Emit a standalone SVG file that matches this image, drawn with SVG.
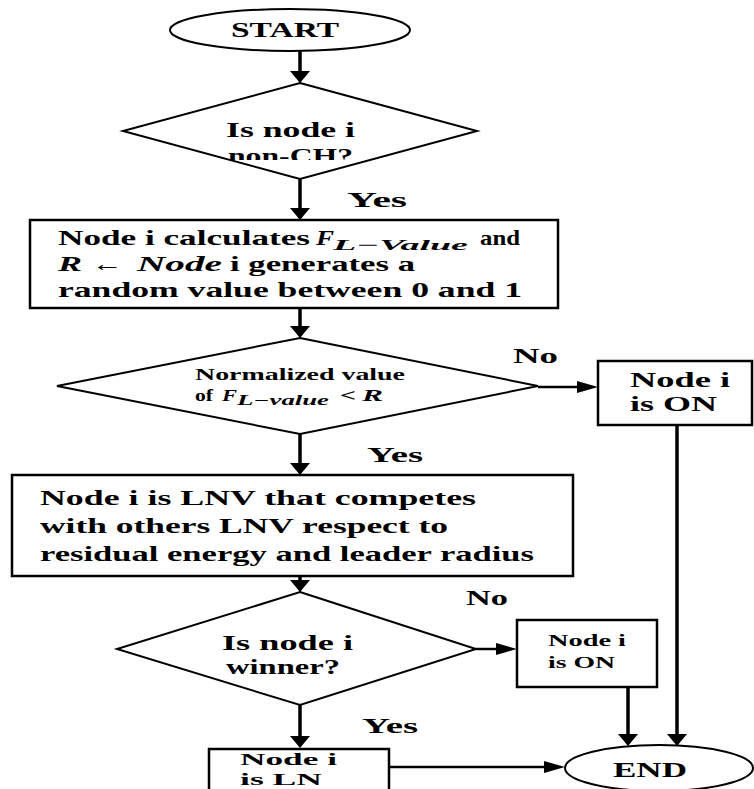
<svg xmlns="http://www.w3.org/2000/svg" width="754" height="789" viewBox="0 0 754 789">
<style>
.t{font-family:"Liberation Serif","Times New Roman",serif;font-weight:bold;font-size:21px;fill:#000}
.it{font-style:italic}
.s16{font-size:17px}
.sub{font-size:15px}
.sub2{font-size:14px}
.ln{font-size:16px}
.shape{fill:#fff;stroke:#000;stroke-width:2}
.box{fill:#fff;stroke:#000;stroke-width:2.5}
.v{fill:none;stroke:#000;stroke-width:3.5}
.h{fill:none;stroke:#000;stroke-width:2.5}
</style>
<defs>
<marker id="av" markerUnits="userSpaceOnUse" markerWidth="12" markerHeight="20" viewBox="0 0 12 20" refX="0" refY="10" orient="auto"><path d="M0,0 L12,10 L0,20 z" fill="#000"/></marker>
<marker id="ah" markerUnits="userSpaceOnUse" markerWidth="21" markerHeight="12" viewBox="0 0 21 12" refX="0" refY="6" orient="auto"><path d="M0,0 L21,6 L0,12 z" fill="#000"/></marker>
<clipPath id="clipD1"><rect x="120" y="80" width="360" height="80"/></clipPath>
</defs>
<rect width="754" height="789" fill="#fff"/>

<g id="connectors">
<path class="v" d="M300,51 V71" marker-end="url(#av)"/>
<path class="v" d="M300,179 V208" marker-end="url(#av)"/>
<path class="v" d="M300,308 V326" marker-end="url(#av)"/>
<path class="h" d="M538,387 H577" marker-end="url(#ah)"/>
<path class="v" d="M300,434 V463" marker-end="url(#av)"/>
<path class="v" d="M300,576 V580" marker-end="url(#av)"/>
<path class="h" d="M476,649 H496" marker-end="url(#ah)"/>
<path class="v" d="M300,705 V736" marker-end="url(#av)"/>
<path class="h" d="M389,767 H544" marker-end="url(#ah)"/>
<path class="v" d="M628,687 V734" marker-end="url(#av)"/>
<path class="v" d="M677,425 V734" marker-end="url(#av)"/>
<text class="t" x="347" y="207" textLength="60" lengthAdjust="spacingAndGlyphs">Yes</text>
<text class="t" x="513" y="363" textLength="45" lengthAdjust="spacingAndGlyphs">No</text>
<text class="t" x="367" y="462" textLength="56" lengthAdjust="spacingAndGlyphs">Yes</text>
<text class="t" x="466" y="605" textLength="42" lengthAdjust="spacingAndGlyphs">No</text>
<text class="t" x="362" y="733" textLength="56" lengthAdjust="spacingAndGlyphs">Yes</text>
</g>

<g id="start">
<ellipse class="shape" cx="290" cy="30" rx="120" ry="21"/>
<text class="t" x="231" y="37" textLength="108" lengthAdjust="spacingAndGlyphs">START</text>
</g>

<g id="d1">
<polygon class="shape" points="300,83 477,131 300,179 123,131"/>
<text class="t" x="226" y="137" textLength="129" lengthAdjust="spacingAndGlyphs">Is node i</text>
<text class="t" x="228" y="163" textLength="125" lengthAdjust="spacingAndGlyphs" clip-path="url(#clipD1)">non-CH?</text>
</g>

<g id="b1">
<rect class="box" x="30" y="220" width="528" height="88"/>
<text class="t" x="58" y="245" textLength="252" lengthAdjust="spacingAndGlyphs">Node i calculates</text>
<text class="t it" x="316" y="245" textLength="18" lengthAdjust="spacingAndGlyphs">F</text>
<text class="t it sub" x="333" y="250" textLength="135" lengthAdjust="spacingAndGlyphs">L−Value</text>
<text class="t" x="480" y="245" textLength="40" lengthAdjust="spacingAndGlyphs">and</text>
<text class="t it" x="58" y="271" textLength="24" lengthAdjust="spacingAndGlyphs">R</text>
<text class="t" x="92" y="271" textLength="31" lengthAdjust="spacingAndGlyphs">←</text>
<text class="t it" x="137" y="271" textLength="85" lengthAdjust="spacingAndGlyphs">Node</text>
<text class="t" x="230" y="271" textLength="185" lengthAdjust="spacingAndGlyphs">i generates a</text>
<text class="t" x="58" y="297" textLength="464" lengthAdjust="spacingAndGlyphs">random value between 0 and 1</text>
</g>

<g id="d2">
<polygon class="shape" points="300,338 538,386 300,434 57,386"/>
<text class="t s16" x="195" y="380" textLength="210" lengthAdjust="spacingAndGlyphs">Normalized value</text>
<text class="t s16" x="195" y="401" textLength="18" lengthAdjust="spacingAndGlyphs">of</text>
<text class="t s16 it" x="222" y="401" textLength="15" lengthAdjust="spacingAndGlyphs">F</text>
<text class="t it sub2" x="237" y="405" textLength="92" lengthAdjust="spacingAndGlyphs">L−value</text>
<text class="t s16" x="340" y="401" textLength="16" lengthAdjust="spacingAndGlyphs">&lt;</text>
<text class="t s16 it" x="362" y="401" textLength="21" lengthAdjust="spacingAndGlyphs">R</text>
</g>

<g id="on1">
<rect class="box" x="598" y="361" width="154" height="64"/>
<text class="t" x="630" y="387" textLength="100" lengthAdjust="spacingAndGlyphs">Node i</text>
<text class="t" x="630" y="411" textLength="87" lengthAdjust="spacingAndGlyphs">is ON</text>
</g>

<g id="b2">
<rect class="box" x="12" y="475" width="561" height="101"/>
<text class="t" x="40" y="505" textLength="436" lengthAdjust="spacingAndGlyphs">Node i is LNV that competes</text>
<text class="t" x="40" y="533" textLength="408" lengthAdjust="spacingAndGlyphs">with others LNV respect to</text>
<text class="t" x="40" y="561" textLength="494" lengthAdjust="spacingAndGlyphs">residual energy and leader radius</text>
</g>

<g id="d3">
<polygon class="shape" points="300,592 476,649 300,705 117,649"/>
<text class="t" x="222" y="650" textLength="131" lengthAdjust="spacingAndGlyphs">Is node i</text>
<text class="t" x="226" y="674" textLength="114" lengthAdjust="spacingAndGlyphs">winner?</text>
</g>

<g id="on2">
<rect class="box" x="517" y="620" width="140" height="67"/>
<text class="t s16" x="548" y="646" textLength="78" lengthAdjust="spacingAndGlyphs">Node i</text>
<text class="t s16" x="548" y="668" textLength="67" lengthAdjust="spacingAndGlyphs">is ON</text>
</g>

<g id="ln">
<rect class="box" x="209" y="749" width="180" height="45"/>
<text class="t ln" x="240" y="765" textLength="97" lengthAdjust="spacingAndGlyphs">Node i</text>
<text class="t ln" x="240" y="785" textLength="82" lengthAdjust="spacingAndGlyphs">is LN</text>
</g>

<g id="end">
<ellipse class="shape" cx="659" cy="768" rx="94" ry="23"/>
<text class="t" x="613" y="777" textLength="74" lengthAdjust="spacingAndGlyphs">END</text>
</g>
</svg>
